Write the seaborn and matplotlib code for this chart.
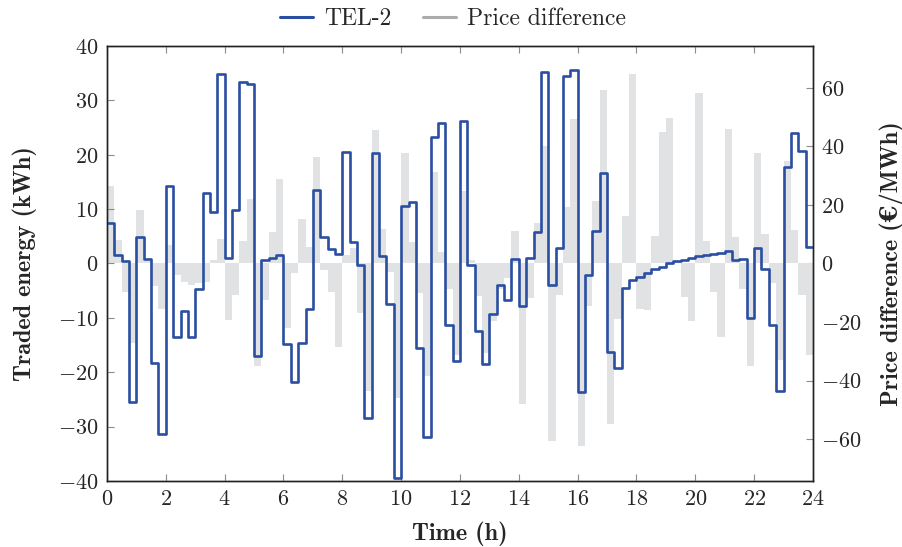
import numpy as np
import pandas as pd
import matplotlib.pyplot as plt
import seaborn as sns
from matplotlib.lines import Line2D

# traded energy of TEL-2 per quarter hour (kWh)
energy = [7.5, 1.5, 0.5, -25.5,
          4.8, 0.8, -18.3, -31.3,
          14.2, -13.5, -8.7, -13.5,
          -4.7, 12.9, 9.4, 34.8,
          1.1, 9.9, 33.4, 33.1,
          -17.1, 0.6, 1.1, 1.5,
          -14.8, -21.8, -14.6, -8.3,
          13.6, 4.9, 2.7, 1.8,
          20.5, 3.9, -0.2, -28.5,
          20.3, 1.3, -7.5, -39.4,
          10.6, 11.4, -15.6, -31.9,
          23.3, 25.8, -11.4, -18.0,
          26.2, -0.2, -12.5, -18.5,
          -9.3, -3.9, -6.8, 0.9,
          -7.9, 1.1, 5.7, 35.2,
          -3.9, 2.9, 34.4, 35.6,
          -23.7, -2.1, 6.0, 16.6,
          -16.3, -19.3, -4.5, -3.1,
          -2.5, -1.8, -1.1, -0.6,
          0.0, 0.4, 0.7, 1.0,
          1.3, 1.5, 1.8, 2.0,
          2.3, 0.7, 0.9, -10.1,
          2.9, -1.1, -11.3, -23.4,
          17.7, 24.0, 20.7, 3.0]

# price difference per quarter hour (EUR/MWh)
price = [26.6, 8.1, -9.9, -27.2,
         18.2, 1.0, -7.6, -15.5,
         6.2, -3.9, -6.2, -7.2,
         -6.5, -6.4, 1.3, 8.3,
         -19.3, -10.6, 7.6, 22.0,
         -34.9, -12.4, 10.8, 28.9,
         -22.2, -3.2, 15.3, 5.5,
         36.5, -2.3, -9.9, -28.6,
         3.0, 5.3, -16.8, -43.4,
         45.5, 11.7, -3.0, -45.8,
         37.6, 7.3, -10.0, -38.6,
         31.4, 3.9, -8.8, -31.3,
         24.7, 1.1, -11.1, -30.7,
         -19.7, -8.8, -5.0, 11.1,
         -48.1, -11.9, 14.0, 40.0,
         -60.5, -10.9, 19.4, 49.2,
         -62.3, -14.4, 21.5, 59.1,
         -54.9, -19.1, 16.1, 64.9,
         -15.4, -15.8, 9.4, 44.8,
         49.7, 0.5, -11.6, -19.5,
         58.4, 7.7, -9.9, -25.0,
         45.8, 8.9, -8.7, -35.1,
         37.9, 10.0, -6.6, -32.8,
         35.0, 11.5, -10.6, -31.4]

step_h = 0.25
time_h = np.arange(len(energy)) * step_h

blue = '#2a4ea2'
bar_grey = '#e1e2e4'
legend_grey = '#ababab'

sns.set_style('ticks')
plt.rcParams['font.family'] = ['cmr10']
plt.rcParams['mathtext.fontset'] = 'cm'
plt.rcParams['axes.formatter.use_mathtext'] = True
plt.rcParams['font.size'] = 16

fig, ax = plt.subplots(figsize=(9.03, 5.47), dpi=100)
fig.subplots_adjust(left=0.1185, right=0.9003, top=0.9159, bottom=0.1207)
ax2 = ax.twinx()

sns.barplot(x=time_h + step_h / 2, y=price, native_scale=True, width=1,
            color=bar_grey, saturation=1, errorbar=None, linewidth=0, ax=ax2)

line_df = pd.DataFrame({'t': np.append(time_h, 24.0),
                        'e': energy + [energy[-1]]})
sns.lineplot(data=line_df, x='t', y='e', drawstyle='steps-post',
             color=blue, linewidth=1.9, ax=ax)

ax.set_zorder(ax2.get_zorder() + 1)
ax.patch.set_visible(False)

ax.set_xlim(0, 24)
ax.set_ylim(-40, 40)
ax2.set_ylim(-74.3, 74.3)
ax.set_xticks(range(0, 25, 2))
ax.set_yticks(range(-40, 41, 10))
ax2.set_yticks(range(-60, 61, 20))

ax.tick_params(axis='both', direction='in', length=5, color='#8c8c8c',
               top=True, labelsize=16, pad=6)
ax2.tick_params(axis='y', direction='in', length=5, color='#8c8c8c',
                labelsize=16, pad=6)
for a in (ax, ax2):
    for s in a.spines.values():
        s.set_linewidth(1.0)
        s.set_color('#222222')

bold = dict(family=['cmb10', 'DejaVu Serif'], fontweight='bold', fontsize=17.5)
ax.set_xlabel('Time (h)', labelpad=9, **bold)
ax.set_ylabel('Traded energy (kWh)', labelpad=15, **bold)
ax2.set_ylabel('Price difference (€/MWh)', labelpad=13, **bold)

handles = [Line2D([], [], color=blue, lw=2.2),
           Line2D([], [], color=legend_grey, lw=2.2)]
ax.legend(handles, ['TEL-2', 'Price difference'], loc='lower center',
          bbox_to_anchor=(0.49, 1.015), ncol=2, frameon=False,
          handlelength=1.4, columnspacing=1.3, handletextpad=0.5,
          fontsize=17, borderaxespad=0.0)

plt.savefig('out.png', dpi=100)
